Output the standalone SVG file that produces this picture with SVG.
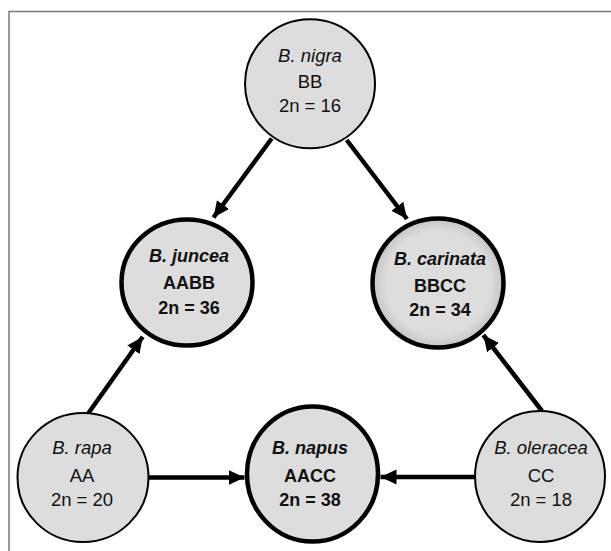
<svg xmlns="http://www.w3.org/2000/svg" width="611" height="551" viewBox="0 0 611 551">
<style>
.node{fill:#dddddd;stroke:#000;}
.thin{stroke-width:2;}
.thick{stroke-width:4.5;}
text{font-family:"Liberation Sans",Arial,sans-serif;font-size:18.5px;fill:#111;text-anchor:middle;}
.sp{font-style:italic;}
.b{font-weight:bold;font-size:18px;}
.conn{stroke:#000;stroke-width:4.5;fill:none;marker-end:url(#arr);}
</style>
<defs>
<marker id="arr" markerUnits="userSpaceOnUse" markerWidth="18" markerHeight="18" viewBox="0 0 18 18" refX="16" refY="9" orient="auto">
<path d="M0,1.5 L16,9 L0,16.5 Z" fill="#000"/>
</marker>
<radialGradient id="shade" cx="0.5" cy="0.5" r="0.5">
<stop offset="0.8" stop-color="#dddddd"/>
<stop offset="1" stop-color="#c4c4c4"/>
</radialGradient>
</defs>
<g id="frame">
<polyline points="9,551 9,11.5 611,11.5" fill="none" stroke="#7a7a7a" stroke-width="1.5"/>
</g>
<g id="connectors">
<line class="conn" x1="271.7" y1="138.5" x2="213.5" y2="217.5"/>
<line class="conn" x1="346.7" y1="140" x2="407" y2="219"/>
<line class="conn" x1="88.5" y1="413" x2="142.7" y2="336.7"/>
<line class="conn" x1="542" y1="411" x2="483.3" y2="335"/>
<line class="conn" x1="148.5" y1="477.5" x2="244.5" y2="477.5"/>
<line class="conn" x1="474.5" y1="477" x2="380.5" y2="477"/>
</g>
<g id="nigra">
<ellipse class="node thin" cx="310" cy="83.8" rx="65" ry="64.5"/>
<text x="310" y="61.7" class="sp">B. nigra</text>
<text x="310" y="87.7">BB</text>
<text x="310" y="111.7">2n = 16</text>
</g>
<g id="juncea">
<ellipse class="node thick" cx="187" cy="282.5" rx="65.5" ry="63"/>
<text x="189" y="262" class="sp b">B. juncea</text>
<text x="189" y="288.5" class="b">AABB</text>
<text x="189" y="314" class="b">2n = 36</text>
</g>
<g id="carinata">
<ellipse class="node thick" cx="438" cy="283" rx="65.5" ry="64.5" style="fill:url(#shade)"/>
<text x="440" y="265" class="sp b">B. carinata</text>
<text x="440" y="291.5" class="b">BBCC</text>
<text x="440" y="316" class="b">2n = 34</text>
</g>
<g id="rapa">
<ellipse class="node thin" cx="83" cy="477.5" rx="65.5" ry="64.5"/>
<text x="82" y="454" class="sp">B. rapa</text>
<text x="82" y="481.5">AA</text>
<text x="82" y="506">2n = 20</text>
</g>
<g id="napus">
<ellipse class="node thick" cx="312.5" cy="474" rx="65.5" ry="67.5"/>
<text x="310" y="454" class="sp b">B. napus</text>
<text x="310" y="481.5" class="b">AACC</text>
<text x="310" y="506" class="b">2n = 38</text>
</g>
<g id="oleracea">
<ellipse class="node thin" cx="540" cy="476.5" rx="65" ry="65.5"/>
<text x="541" y="454" class="sp">B. oleracea</text>
<text x="541" y="481.5">CC</text>
<text x="541" y="506">2n = 18</text>
</g>
</svg>
